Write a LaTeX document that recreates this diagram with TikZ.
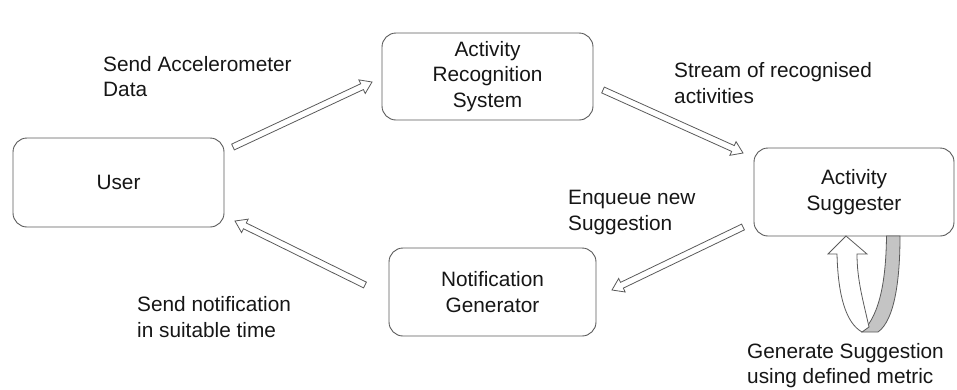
\documentclass[tikz,border=0pt]{standalone}
\usepackage{fontspec}
\setmainfont{Liberation Sans}
\usetikzlibrary{calc}
\definecolor{ink}{HTML}{161616}
\definecolor{edge}{HTML}{5A5A5A}
\definecolor{band}{HTML}{C4C4C4}
\tikzset{
  stagebox/.style={draw=edge, line width=0.9pt, rounded corners=14pt, fill=white,
    align=center, text=ink, inner sep=0pt},
  note/.style={align=left, text=ink, inner sep=0pt, anchor=west},
  flowarrow/.style={draw=edge, line width=0.8pt, fill=white, line join=miter},
  loopline/.style={draw=edge, line width=0.8pt},
}
% hollow block arrow from #1 (tail) to #2 (tip)
\newcommand\hollowarrow[2]{%
  \coordinate (#1-#2-neck) at ($(#2)!11pt!(#1)$);
  \draw[flowarrow]
    ($(#1)!3.2pt!90:(#2)$) --
    ($(#1-#2-neck)!3.2pt!-90:(#1)$) --
    ($(#1-#2-neck)!7.5pt!-90:(#1)$) --
    (#2) --
    ($(#1-#2-neck)!7.5pt!90:(#1)$) --
    ($(#1-#2-neck)!3.2pt!90:(#1)$) --
    ($(#1)!3.2pt!-90:(#2)$) -- cycle;}
\begin{document}
\begin{tikzpicture}[x=1pt, y=-1pt, font=\fontsize{20.8}{25.5}\selectfont]
\useasboundingbox (0,0) rectangle (957,389);

% stages
\node[stagebox, minimum width=211pt, minimum height=89pt] (user) at (118.5,182.5) {User};
\node[stagebox, minimum width=211pt, minimum height=87pt] (ars) at (487.5,76.5) {Activity\\Recognition\\System};
\node[stagebox, minimum width=200pt, minimum height=88pt] (sugg) at (854,192) {Activity\\Suggester};
\node[stagebox, minimum width=207pt, minimum height=88pt] (notif) at (492.5,292) {Notification\\Generator};

% arrow end points
\coordinate (userOut) at (233,147);
\coordinate (arsIn) at (372,82);
\coordinate (arsOut) at (603,90);
\coordinate (suggIn) at (743,153);
\coordinate (suggOut) at (743,227);
\coordinate (notifIn) at (612,290);
\coordinate (notifOut) at (365,285);
\coordinate (userIn) at (235,221);

\hollowarrow{userOut}{arsIn}
\hollowarrow{arsOut}{suggIn}
\hollowarrow{suggOut}{notifIn}
\hollowarrow{notifOut}{userIn}

% labels
\node[note] (lblSend) at (103,76.5) {Send Accelerometer\\Data};
\node[note] (lblStream) at (674,83) {Stream of recognised\\activities};
\node[note] (lblEnq) at (568,212.5) {Enqueue new\\Suggestion};
\node[note] (lblNotify) at (137,317) {Send notification\\in suitable time};
\node[note] (lblGen) at (747,365.5) {Generate Suggestion\\using defined metric};

% self loop under the suggester: back face of the ribbon
\filldraw[loopline, fill=band]
  (886.5,236) .. controls (886,276) and (881,314) .. (862,332)
  -- (878,332) .. controls (895,320) and (900,278) .. (900,236) -- cycle;
% front face with the arrow head
\filldraw[loopline, fill=white]
  (837,254) .. controls (838,296) and (846,323) .. (862,332)
  -- (869,327) .. controls (863,300) and (857,280) .. (857,254)
  -- (867,254) -- (846,236) -- (828,254) -- cycle;
\end{tikzpicture}
\end{document}
